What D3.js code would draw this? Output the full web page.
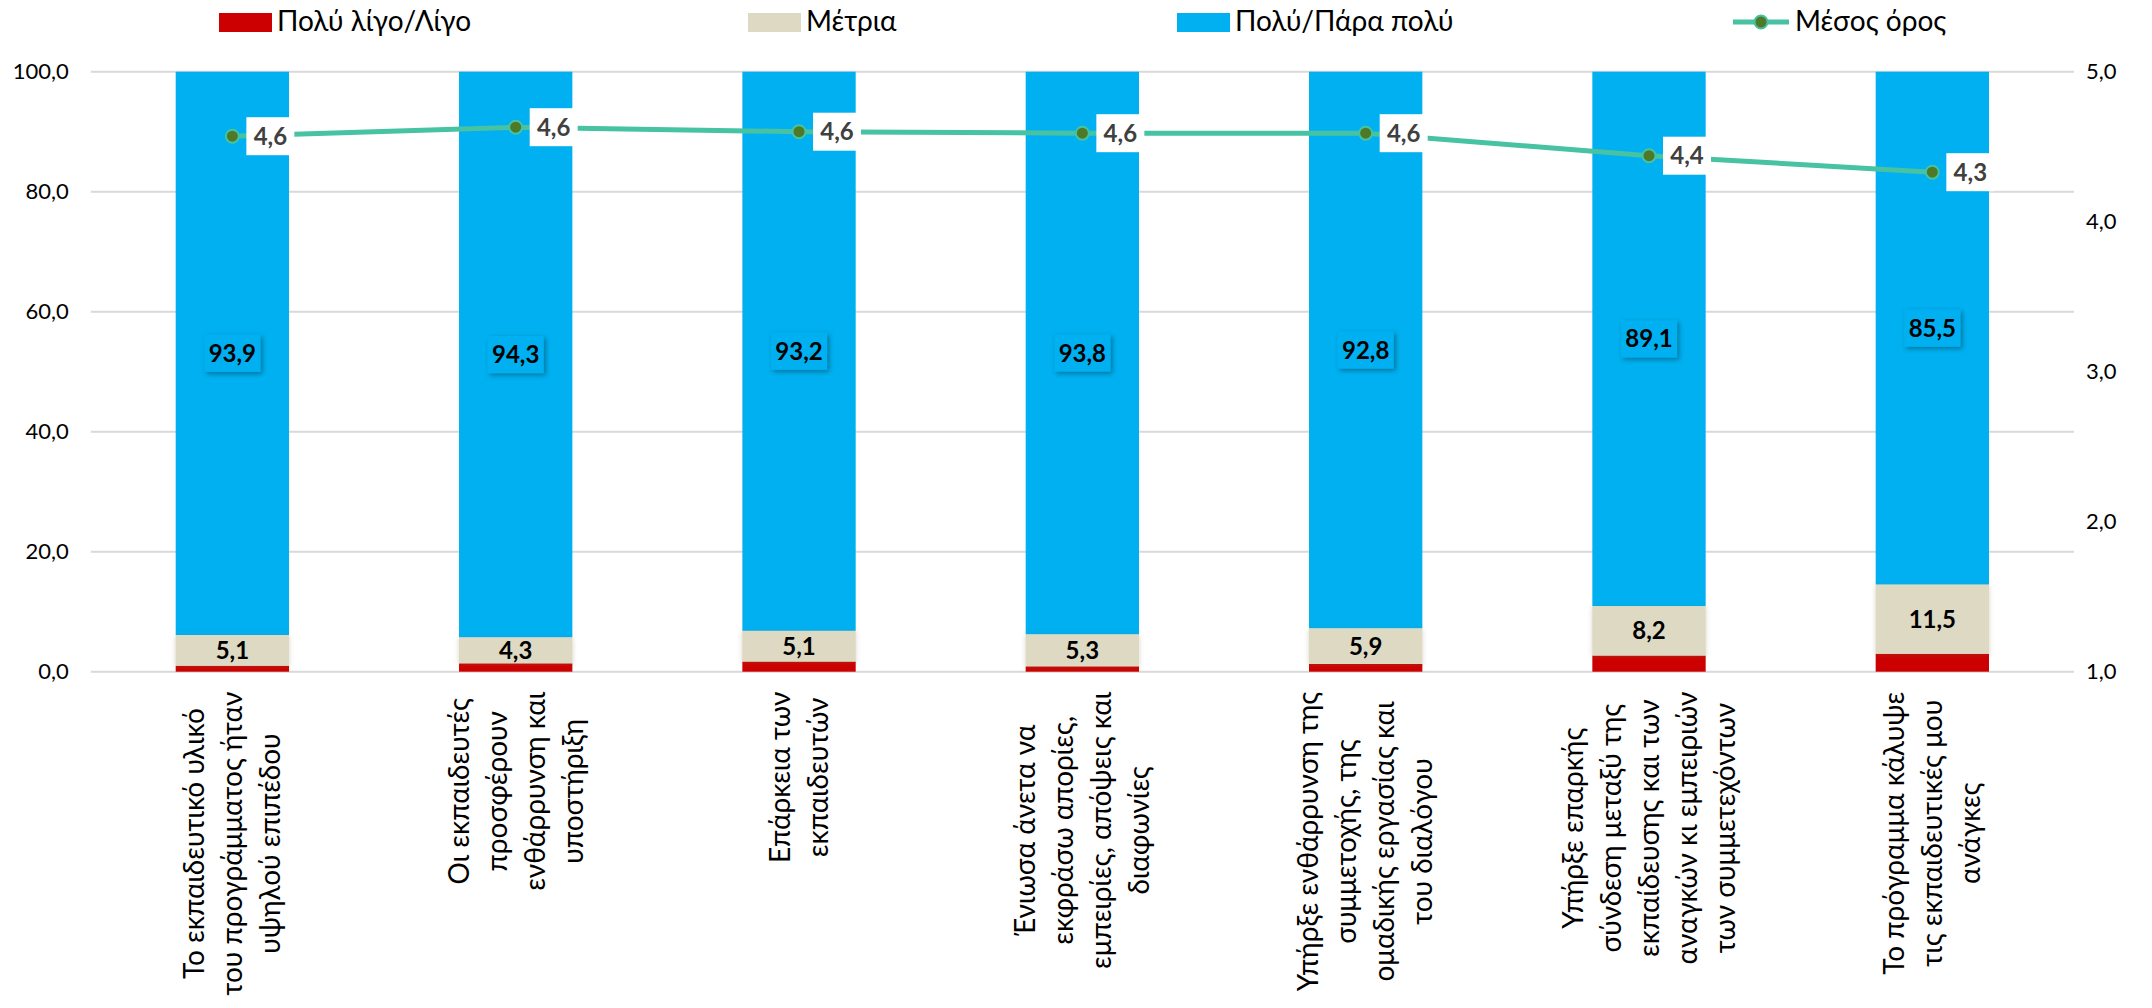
<!DOCTYPE html>
<html>
<head>
<meta charset="utf-8">
<script src="https://cdn.jsdelivr.net/npm/d3@7"></script>
<style>
  html, body { margin: 0; padding: 0; background: #ffffff; }
  svg { display: block; font-family: Lato, "Noto Sans", sans-serif; }
</style>
</head>
<body>
<svg id="chart" width="2152" height="1008"></svg>
<script>
// ---------- DATA ----------
const categories = [
  ["Το εκπαιδευτικό υλικό", "του προγράμματος ήταν", "υψηλού επιπέδου"],
  ["Οι εκπαιδευτές", "προσφέρουν", "ενθάρρυνση και", "υποστήριξη"],
  ["Επάρκεια των", "εκπαιδευτών"],
  ["Ένιωσα άνετα να", "εκφράσω απορίες,", "εμπειρίες, απόψεις και", "διαφωνίες"],
  ["Υπήρξε ενθάρρυνση της", "συμμετοχής, της", "ομαδικής εργασίας και", "του διαλόγου"],
  ["Υπήρξε επαρκής", "σύνδεση μεταξύ της", "εκπαίδευσης και των", "αναγκών κι εμπειριών", "των συμμετεχόντων"],
  ["Το πρόγραμμα κάλυψε", "τις εκπαιδευτικές μου", "ανάγκες"]
];
const seriesNames = ["Πολύ λίγο/Λίγο", "Μέτρια", "Πολύ/Πάρα πολύ", "Μέσος όρος"];
const lowValues = [1.0, 1.4, 1.7, 0.9, 1.3, 2.7, 3.0];
const midValues = [5.1, 4.3, 5.1, 5.3, 5.9, 8.2, 11.5];
const highValues = [93.9, 94.3, 93.2, 93.8, 92.8, 89.1, 85.5];
const meanValues = [4.57, 4.63, 4.60, 4.59, 4.59, 4.44, 4.33];
const leftTicks = [0, 20, 40, 60, 80, 100];
const rightTicks = [1, 2, 3, 4, 5];

// ---------- STYLE / LAYOUT ----------
const colors = { low: "#cc0000", mid: "#ddd9c3", high: "#00b0f0", line: "#47c2a2", marker: "#4e7a27" };
const plot = { left: 90.7, right: 2074, top: 71.7, bottom: 671.7 };
const legendX = [219, 748, 1177, 1733];

const svg = d3.select("#chart");
const fmt = v => d3.format(".1f")(v).replace(".", ",");

const catIdx = categories.map((c, i) => i);
const x = d3.scaleBand().domain(catIdx).range([plot.left, plot.right]).paddingInner(0.6).paddingOuter(0.3);
const yL = d3.scaleLinear().domain([0, 100]).range([plot.bottom, plot.top]);
const yR = d3.scaleLinear().domain([1, 5]).range([plot.bottom, plot.top]);

// shadow filters
const defs = svg.append("defs");
const f = defs.append("filter").attr("id", "shadow").attr("x", "-30%").attr("y", "-30%").attr("width", "160%").attr("height", "160%");
f.append("feDropShadow").attr("dx", 2).attr("dy", 2).attr("stdDeviation", 2.5).attr("flood-color", "#000").attr("flood-opacity", 0.35);
const f2 = defs.append("filter").attr("id", "softshadow").attr("x", "-10%").attr("y", "-30%").attr("width", "120%").attr("height", "160%");
f2.append("feDropShadow").attr("dx", 0).attr("dy", 1).attr("stdDeviation", 2.5).attr("flood-color", "#7a6a40").attr("flood-opacity", 0.3);

// gridlines
svg.append("g").selectAll("line").data(leftTicks).join("line")
  .attr("x1", plot.left).attr("x2", plot.right)
  .attr("y1", d => yL(d)).attr("y2", d => yL(d))
  .attr("stroke", "#d9d9d9").attr("stroke-width", 2);

// left axis
const axL = svg.append("g").attr("transform", `translate(${plot.left},0)`)
  .call(d3.axisLeft(yL).tickValues(leftTicks).tickFormat(fmt).tickSize(0).tickPadding(22));
axL.select(".domain").remove();
axL.selectAll("text").attr("font-size", 22).attr("fill", "#000").style("font-family", "Lato, 'Noto Sans', sans-serif");

// right axis
const axR = svg.append("g").attr("transform", `translate(${plot.right},0)`)
  .call(d3.axisRight(yR).tickValues(rightTicks).tickFormat(fmt).tickSize(0).tickPadding(12));
axR.select(".domain").remove();
axR.selectAll("text").attr("font-size", 22).attr("fill", "#000").style("font-family", "Lato, 'Noto Sans', sans-serif");

// stacked bars
const rows = catIdx.map(i => ({ i, low: lowValues[i], mid: midValues[i], high: highValues[i] }));
const stack = d3.stack().keys(["low", "mid", "high"])(rows);
const keyColor = { low: colors.low, mid: colors.mid, high: colors.high };
const gBars = svg.append("g");
// draw high first, then low, then mid (mid carries a soft shadow)
["high", "low", "mid"].forEach(key => {
  const layer = stack.find(l => l.key === key);
  gBars.append("g").selectAll("rect").data(layer).join("rect")
    .attr("x", d => x(d.data.i))
    .attr("width", x.bandwidth())
    .attr("y", d => yL(d[1]))
    .attr("height", d => yL(d[0]) - yL(d[1]))
    .attr("fill", keyColor[key])
    .attr("filter", key === "mid" ? "url(#softshadow)" : null);
});

// bar labels
const gLab = svg.append("g");
stack.filter(l => l.key !== "low").forEach(layer => {
  layer.forEach(d => {
    const v = d.data[layer.key];
    const cx = x(d.data.i) + x.bandwidth() / 2;
    const cy = (yL(d[0]) + yL(d[1])) / 2;
    if (layer.key === "high") {
      const w = 56, h = 37;
      gLab.append("rect").attr("x", cx - w / 2).attr("y", cy - h / 2).attr("width", w).attr("height", h)
        .attr("fill", keyColor.high).attr("filter", "url(#shadow)");
    }
    gLab.append("text").attr("x", cx).attr("y", cy).attr("dy", "0.35em").attr("text-anchor", "middle")
      .attr("font-size", 24).attr("font-weight", "bold").attr("fill", "#000").text(fmt(v));
  });
});

// mean line
const linePts = catIdx.map(i => [x(i) + x.bandwidth() / 2, yR(meanValues[i])]);
svg.append("path").attr("d", d3.line()(linePts)).attr("fill", "none")
  .attr("stroke", colors.line).attr("stroke-width", 5).attr("stroke-linejoin", "round");

// mean labels
const gM = svg.append("g");
linePts.forEach((p, i) => {
  gM.append("rect").attr("x", p[0] + 14).attr("y", p[1] - 19).attr("width", 48).attr("height", 38).attr("fill", "#fff");
  gM.append("text").attr("x", p[0] + 38).attr("y", p[1]).attr("dy", "0.35em").attr("text-anchor", "middle")
    .attr("font-size", 24).attr("font-weight", "bold").attr("fill", "#404040").text(fmt(meanValues[i]));
});
svg.append("g").selectAll("circle").data(linePts).join("circle")
  .attr("cx", d => d[0]).attr("cy", d => d[1]).attr("r", 6.5)
  .attr("fill", colors.marker).attr("stroke", colors.line).attr("stroke-width", 2);

// category labels (rotated)
const gCat = svg.append("g");
const pitch = 38;
categories.forEach((lines, i) => {
  const cx = x(i) + x.bandwidth() / 2;
  const g = gCat.append("g");
  const texts = lines.map((ln, k) => g.append("text").attr("font-size", 28).attr("fill", "#000")
      .attr("text-anchor", "middle").text(ln));
  const maxLen = d3.max(texts, t => t.node().getComputedTextLength());
  const n = lines.length;
  texts.forEach((t, k) => {
    const off = (k - (n - 1) / 2) * pitch;
    t.attr("transform", `translate(${cx + off},${plot.bottom + 20 + maxLen / 2}) rotate(-90)`)
     .attr("dy", "0.35em");
  });
});

// legend
const gLeg = svg.append("g");
[colors.low, colors.mid, colors.high].forEach((c, i) => {
  gLeg.append("rect").attr("x", legendX[i]).attr("y", 13).attr("width", 53).attr("height", 19).attr("fill", c);
  gLeg.append("text").attr("x", legendX[i] + 58).attr("y", 31).attr("font-size", 28).attr("fill", "#000").text(seriesNames[i]);
});
gLeg.append("line").attr("x1", legendX[3]).attr("x2", legendX[3] + 56).attr("y1", 22).attr("y2", 22)
  .attr("stroke", colors.line).attr("stroke-width", 5);
gLeg.append("circle").attr("cx", legendX[3] + 28).attr("cy", 22).attr("r", 6.5)
  .attr("fill", colors.marker).attr("stroke", colors.line).attr("stroke-width", 2);
gLeg.append("text").attr("x", legendX[3] + 62).attr("y", 31).attr("font-size", 28).attr("fill", "#000").text(seriesNames[3]);
</script>
</body>
</html>
